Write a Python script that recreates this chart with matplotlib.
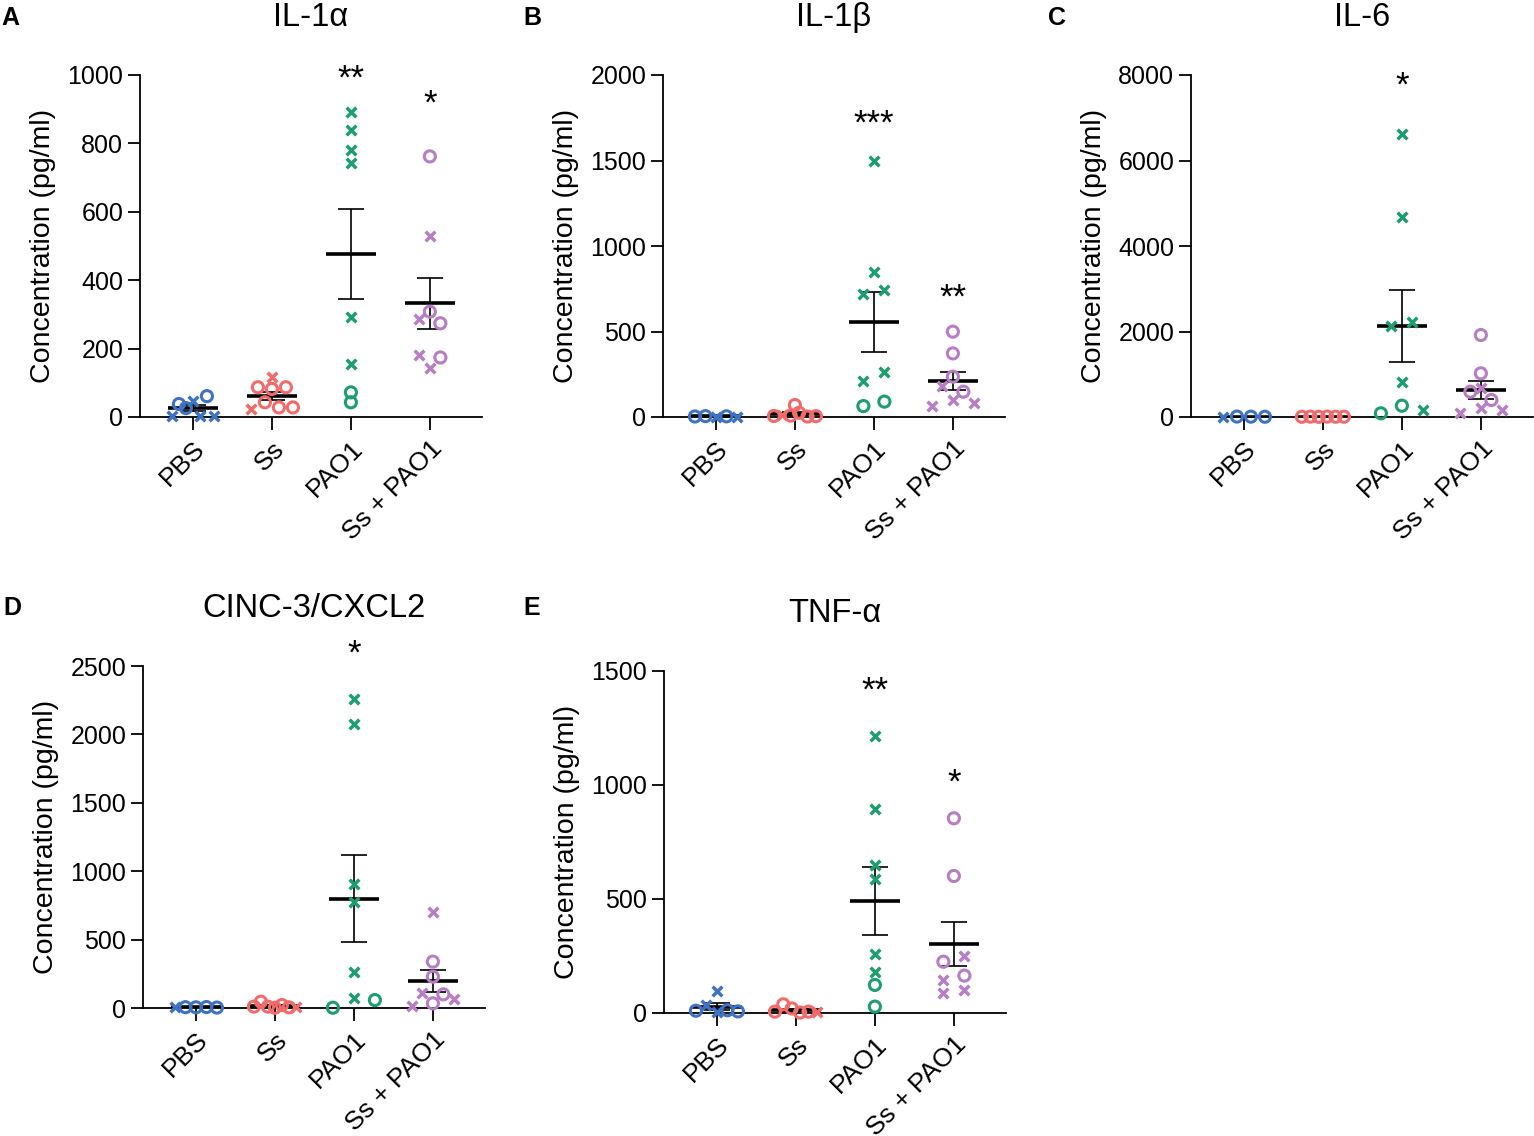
import numpy as np
import matplotlib
matplotlib.use("Agg")
import matplotlib.pyplot as plt

plt.rcParams['font.family'] = ['Liberation Sans', 'DejaVu Sans']

groups = ["PBS", "Ss", "PAO1", "Ss + PAO1"]
colors = ["#3f72c2", "#f26b6b", "#1e9e6e", "#b77dc5"]
titles = ["IL-1α", "IL-1β", "IL-6", "CINC-3/CXCL2", "TNF-α"]
letters = ["A", "B", "C", "D", "E"]

# values per group (pg/ml), with marker per point: o = circle, x = cross
il1a_vals = [[3, 26, 2, 4, 38, 48, 61],
             [23, 43, 28, 28, 87, 82, 87, 116],
             [893, 840, 781, 743, 291, 155, 72, 43],
             [762, 529, 286, 274, 308, 181, 174, 142]]
il1a_marks = ["xoxxoxo", "xoooooox", "xxxxxxoo", "oxxooxox"]

il1b_vals = [[3, 5, 2, 4, 1],
             [6, 12, 8, 25, 3, 5, 70],
             [1499, 850, 719, 743, 211, 265, 64, 90],
             [499, 372, 236, 182, 148, 64, 99, 80]]
il1b_marks = ["ooxox", "oxooooo", "xxxxxxoo", "oooxoxxx"]

il6_vals = [[5, 10, 8, 6],
            [5, 8, 4, 10, 6, 7],
            [6620, 4671, 2136, 2230, 811, 86, 265, 164],
            [1918, 1022, 592, 398, 671, 86, 203, 164]]
il6_marks = ["xooo", "oooooo", "xxxxxoox", "ooooxxxx"]

cxcl2_vals = [[4, 6, 5, 7, 3],
              [10, 46, 10, 2, 22, 5, 5],
              [2256, 2074, 904, 777, 261, 2, 71, 58],
              [704, 339, 229, 107, 100, 15, 34, 63]]
cxcl2_marks = ["xoooo", "oooooox", "xxxxxoxo", "xooxoxox"]

tnfa_vals = [[96, 10, 35, 5, 12, 7],
             [6, 38, 20, 2, 6, 5],
             [1215, 893, 649, 586, 259, 181, 123, 28],
             [854, 601, 225, 251, 145, 164, 86, 101]]
tnfa_marks = ["xoxxoo", "ooooox", "xxxxxxoo", "oooxxoxx"]

ymax = [1000, 2000, 8000, 2500, 1500]
ystep = [200, 500, 2000, 500, 500]

stars = [["", "", "**", "*"],
         ["", "", "***", "**"],
         ["", "", "*", ""],
         ["", "", "*", ""],
         ["", "", "**", "*"]]
star_y = [[0, 0, 1009, 936],
          [0, 0, 1754, 737],
          [0, 0, 7906, 0],
          [0, 0, 2639, 0],
          [0, 0, 1443, 1039]]

all_vals = [il1a_vals, il1b_vals, il6_vals, cxcl2_vals, tnfa_vals]
all_marks = [il1a_marks, il1b_marks, il6_marks, cxcl2_marks, tnfa_marks]

W, H = 1534, 1136
fig = plt.figure(figsize=(W / 100, H / 100), dpi=100)

# axes placement in pixels (left of y axis, top of y axis)
ax_left = [140, 663, 1191, 143, 664]
ax_top = [75, 75, 75, 666, 671]
ax_w, ax_h = 342, 342
letter_xy = [(1, 25), (523, 25), (1048, 25), (3, 615), (523, 615)]
XLIM = (-0.67, 3.66)


def swarm(values, ax, row_px=9.5, spread_px=42, max_step=21):
    # prism-like layout: points in rows, each row centred on the group
    v = np.asarray(values, float)
    y0, y1 = ax.get_ylim()
    ppu_y = ax.bbox.height / (y1 - y0)
    ppu_x = ax.bbox.width / (XLIM[1] - XLIM[0])
    order = np.argsort(v, kind="stable")
    rows = []
    for i in order:
        if rows and (v[i] - v[rows[-1][0]]) * ppu_y < row_px:
            rows[-1].append(i)
        else:
            rows.append([i])
    nmax = max(len(r) for r in rows)
    step = min(max_step, spread_px / (nmax - 1)) if nmax > 1 else 0
    off = np.zeros(len(v))
    for r in rows:
        r = sorted(r)
        for k, i in enumerate(r):
            off[i] = (k - (len(r) - 1) / 2) * step
    return off / ppu_x


for p in range(5):
    rect = [ax_left[p] / W, 1 - (ax_top[p] + ax_h) / H, ax_w / W, ax_h / H]
    ax = fig.add_axes(rect)
    ax.set_xlim(*XLIM)
    ax.set_ylim(0, ymax[p])
    ax.set_yticks(np.arange(0, ymax[p] + 1, ystep[p]))
    ax.set_xticks(range(4))
    ax.set_xticklabels(groups, rotation=45, ha="right", rotation_mode="anchor")
    for s in ["top", "right"]:
        ax.spines[s].set_visible(False)
    for s in ["left", "bottom"]:
        ax.spines[s].set_linewidth(1.3)
    ax.tick_params(axis="both", length=9, width=1.3, labelsize=18, pad=3)
    ax.tick_params(axis="x", labelsize=19, pad=5)
    ax.set_ylabel("Concentration (pg/ml)", fontsize=20.5, labelpad=8)
    ax.set_title(titles[p], fontsize=23.5, pad=35)

    for g in range(4):
        vals = np.array(all_vals[p][g], float)
        marks = all_marks[p][g]
        xs = g + swarm(vals, ax)
        mean = vals.mean()
        sem = vals.std(ddof=1) / np.sqrt(len(vals))
        ax.errorbar(g, mean, yerr=sem, fmt="none", ecolor="black",
                    elinewidth=1.2, capsize=9.5, capthick=1.2, zorder=2,
                    clip_on=False)
        ax.hlines(mean, g - 0.32, g + 0.32, color="black", lw=2.6, zorder=2)
        circ = np.array([m == "o" for m in marks])
        ax.scatter(xs[circ], vals[circ], marker="o", facecolors="none",
                   edgecolors=colors[g], s=8.0 ** 2, linewidths=2.2,
                   zorder=3, clip_on=False)
        ax.scatter(xs[~circ], vals[~circ], marker="x", color=colors[g],
                   s=7.0 ** 2, linewidths=2.5, zorder=3, clip_on=False)
        if stars[p][g]:
            ax.annotate(stars[p][g], (g, star_y[p][g]), xytext=(0, -5),
                        textcoords="offset points", ha="center", va="center",
                        fontsize=25, annotation_clip=False)

    lx, ly = letter_xy[p]
    fig.text(lx / W, 1 - ly / H, letters[p], fontsize=18, fontweight="bold",
             ha="left", va="baseline")

fig.savefig("out.png", dpi=100)
